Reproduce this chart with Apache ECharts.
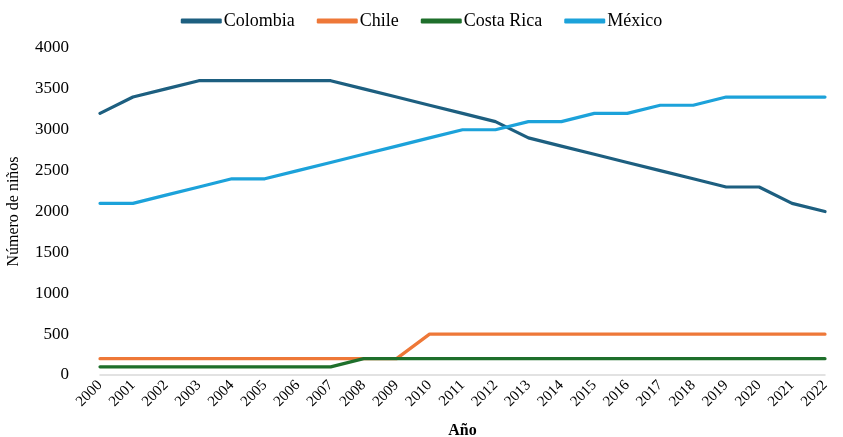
<!DOCTYPE html>
<html>
<head>
<meta charset="utf-8">
<style>
  html, body { margin: 0; padding: 0; background: #fff; }
  #chart { width: 843px; height: 437px; }
</style>
<script src="https://cdn.jsdelivr.net/npm/echarts@6/dist/echarts.min.js"></script>
</head>
<body>
<div id="chart"></div>
<script>
const years = ['2000', '2001', '2002', '2003', '2004', '2005', '2006', '2007', '2008', '2009', '2010',
  '2011', '2012', '2013', '2014', '2015', '2016', '2017', '2018', '2019', '2020', '2021', '2022']
const colombia = [3200, 3400, 3500, 3600, 3600, 3600, 3600, 3600, 3500, 3400, 3300,
  3200, 3100, 2900, 2800, 2700, 2600, 2500, 2400, 2300, 2300, 2100, 2000]
const chile = [200, 200, 200, 200, 200, 200, 200, 200, 200, 200, 500,
  500, 500, 500, 500, 500, 500, 500, 500, 500, 500, 500, 500]
const costaRica = [100, 100, 100, 100, 100, 100, 100, 100, 200, 200, 200,
  200, 200, 200, 200, 200, 200, 200, 200, 200, 200, 200, 200]
const mexico = [2100, 2100, 2200, 2300, 2400, 2400, 2500, 2600, 2700, 2800, 2900,
  3000, 3000, 3100, 3100, 3200, 3200, 3300, 3300, 3400, 3400, 3400, 3400]

const font = 'Liberation Serif'

function line(name, data, color) {
  return {
    name: name,
    type: 'line',
    data: data,
    symbol: 'none',
    color: color,
    lineStyle: { width: 3.2, color: color, cap: 'round', join: 'round' }
  }
}

const chart = echarts.init(document.getElementById('chart'))
chart.setOption({
  animation: false,
  textStyle: { fontFamily: font, color: '#000' },
  legend: {
    top: 7,
    left: 'center',
    itemWidth: 41,
    itemHeight: 5,
    itemGap: 22,
    icon: 'roundRect',
    textStyle: { fontFamily: font, fontSize: 18, color: '#000', padding: [0, 0, 0, -3] }
  },
  grid: { left: 100, right: 18, top: 48, bottom: 62, outerBoundsMode: 'none' },
  xAxis: {
    type: 'category',
    data: years,
    boundaryGap: false,
    name: 'Año',
    nameLocation: 'middle',
    nameGap: 48,
    nameTextStyle: { fontFamily: font, fontSize: 16, fontWeight: 'bold', color: '#000' },
    axisLine: { lineStyle: { color: '#d9d9d9', width: 1.5 } },
    axisTick: { show: false },
    axisLabel: { rotate: 45, fontSize: 15, color: '#000', margin: 8, interval: 0 }
  },
  yAxis: {
    type: 'value',
    min: 0,
    max: 4000,
    interval: 500,
    name: 'Número de niños',
    nameLocation: 'middle',
    nameGap: 78,
    nameTextStyle: { fontFamily: font, fontSize: 16, color: '#000' },
    splitLine: { show: false },
    axisLine: { show: false },
    axisTick: { show: false },
    axisLabel: { fontSize: 17, color: '#000', margin: 31, formatter: function (v) { return String(v) } }
  },
  series: [
    line('Colombia', colombia, '#1d5f80'),
    line('Chile', chile, '#ee7838'),
    line('Costa Rica', costaRica, '#1e6f2b'),
    line('México', mexico, '#1ca2da')
  ]
})
</script>
</body>
</html>
